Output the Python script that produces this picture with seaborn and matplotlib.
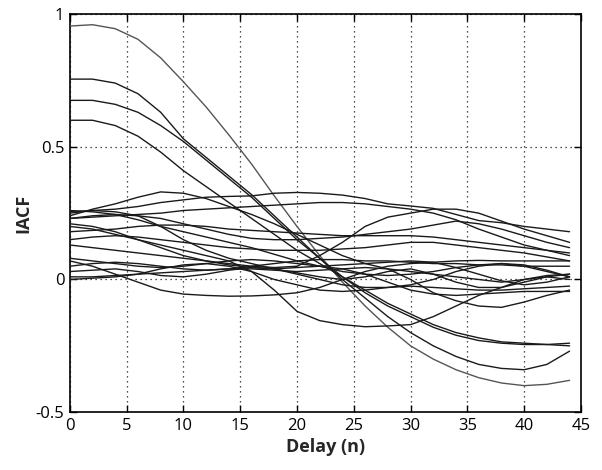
import numpy as np
import pandas as pd
import matplotlib
matplotlib.use("Agg")
import matplotlib.pyplot as plt
import seaborn as sns

# Delay values at which the curves were read (every 2 samples)
delays = list(range(0, 45, 2))

# IACF curves
s_a = [0.955, 0.96, 0.945, 0.905, 0.835, 0.745, 0.65, 0.545, 0.435, 0.315, 0.20, 0.09, -0.01, -0.10, -0.18, -0.25, -0.30, -0.34, -0.37, -0.39, -0.40, -0.395, -0.38]
s_b = [0.755, 0.755, 0.74, 0.70, 0.63, 0.53, 0.46, 0.39, 0.32, 0.24, 0.16, 0.08, 0.0, -0.07, -0.14, -0.20, -0.25, -0.29, -0.32, -0.335, -0.34, -0.32, -0.27]
s_c = [0.675, 0.675, 0.66, 0.63, 0.58, 0.52, 0.45, 0.38, 0.31, 0.23, 0.15, 0.08, 0.01, -0.05, -0.10, -0.14, -0.18, -0.21, -0.23, -0.24, -0.245, -0.245, -0.24]
s_d = [0.60, 0.60, 0.58, 0.54, 0.48, 0.41, 0.35, 0.29, 0.23, 0.17, 0.11, 0.06, 0.01, -0.04, -0.09, -0.13, -0.17, -0.20, -0.22, -0.235, -0.24, -0.245, -0.25]
s_e = [0.24, 0.265, 0.285, 0.31, 0.33, 0.325, 0.305, 0.275, 0.245, 0.21, 0.17, 0.13, 0.09, 0.06, 0.04, 0.03, 0.02, 0.01, 0.0, -0.01, 0.0, 0.01, 0.02]
s_f = [0.255, 0.26, 0.265, 0.275, 0.29, 0.30, 0.31, 0.313, 0.315, 0.325, 0.328, 0.325, 0.318, 0.305, 0.285, 0.277, 0.268, 0.245, 0.222, 0.214, 0.20, 0.19, 0.18]
s_g = [0.25, 0.26, 0.255, 0.24, 0.20, 0.15, 0.11, 0.08, 0.06, 0.04, 0.02, 0.0, -0.02, -0.03, -0.03, -0.02, 0.0, 0.03, 0.05, 0.06, 0.05, 0.03, 0.01]
s_h = [0.20, 0.19, 0.17, 0.15, 0.13, 0.11, 0.09, 0.07, 0.03, -0.04, -0.12, -0.155, -0.17, -0.178, -0.175, -0.17, -0.14, -0.10, -0.06, -0.03, 0.0, 0.015, 0.02]
s_i = [0.07, 0.05, 0.02, -0.01, -0.04, -0.055, -0.06, -0.063, -0.062, -0.058, -0.05, -0.03, 0.0, 0.03, 0.05, 0.06, 0.065, 0.07, 0.072, 0.07, 0.07, 0.07, 0.07]
s_j = [0.13, 0.12, 0.11, 0.10, 0.09, 0.08, 0.07, 0.06, 0.05, 0.045, 0.05, 0.09, 0.14, 0.20, 0.235, 0.25, 0.265, 0.265, 0.25, 0.22, 0.19, 0.165, 0.14]
s_k = [0.23, 0.235, 0.24, 0.245, 0.25, 0.26, 0.265, 0.27, 0.275, 0.28, 0.285, 0.29, 0.29, 0.285, 0.275, 0.265, 0.25, 0.225, 0.19, 0.16, 0.13, 0.11, 0.09]
s_l = [0.18, 0.185, 0.19, 0.20, 0.205, 0.205, 0.20, 0.19, 0.185, 0.18, 0.175, 0.17, 0.165, 0.165, 0.165, 0.165, 0.16, 0.15, 0.14, 0.13, 0.12, 0.11, 0.10]
s_m = [0.15, 0.16, 0.165, 0.16, 0.15, 0.14, 0.13, 0.12, 0.115, 0.11, 0.11, 0.11, 0.115, 0.12, 0.13, 0.14, 0.14, 0.13, 0.12, 0.11, 0.10, 0.085, 0.07]
s_n = [0.05, 0.06, 0.065, 0.06, 0.05, 0.04, 0.035, 0.04, 0.05, 0.06, 0.07, 0.075, 0.075, 0.07, 0.07, 0.065, 0.06, 0.06, 0.055, 0.055, 0.05, 0.05, 0.05]
s_o = [0.03, 0.035, 0.04, 0.03, 0.015, 0.01, 0.02, 0.035, 0.045, 0.04, 0.025, 0.01, 0.0, 0.01, 0.03, 0.04, 0.02, -0.01, -0.03, -0.03, -0.01, 0.01, 0.0]
s_p = [0.01, 0.01, 0.015, 0.02, 0.025, 0.03, 0.035, 0.04, 0.04, 0.035, 0.03, 0.035, 0.04, 0.045, 0.04, 0.0, -0.05, -0.08, -0.10, -0.105, -0.085, -0.06, -0.04]
s_q = [0.0, 0.005, 0.01, 0.02, 0.04, 0.055, 0.06, 0.05, 0.03, 0.0, -0.02, -0.04, -0.045, -0.04, -0.03, -0.025, -0.03, -0.035, -0.04, -0.04, -0.035, -0.03, -0.025]
s_r = [0.08, 0.07, 0.06, 0.05, 0.045, 0.05, 0.06, 0.07, 0.075, 0.07, 0.06, 0.05, 0.04, 0.02, -0.01, -0.04, -0.055, -0.06, -0.055, -0.05, -0.045, -0.045, -0.045]
s_s = [0.21, 0.20, 0.18, 0.15, 0.12, 0.09, 0.07, 0.055, 0.045, 0.04, 0.045, 0.05, 0.055, 0.06, 0.065, 0.07, 0.065, 0.045, 0.02, -0.005, -0.02, -0.01, 0.01]
s_t = [0.26, 0.255, 0.245, 0.225, 0.20, 0.18, 0.16, 0.14, 0.12, 0.095, 0.07, 0.05, 0.03, 0.02, 0.015, 0.02, 0.03, 0.045, 0.055, 0.06, 0.055, 0.035, 0.01]
s_u = [0.23, 0.24, 0.245, 0.24, 0.23, 0.21, 0.19, 0.17, 0.155, 0.15, 0.15, 0.155, 0.16, 0.17, 0.18, 0.19, 0.205, 0.22, 0.21, 0.19, 0.165, 0.14, 0.12]

series = [s_a, s_b, s_c, s_d, s_e, s_f, s_g, s_h, s_i, s_j, s_k,
          s_l, s_m, s_n, s_o, s_p, s_q, s_r, s_s, s_t, s_u]

x_ticks = [0, 5, 10, 15, 20, 25, 30, 35, 40, 45]
y_ticks = [-0.5, 0, 0.5, 1]
y_tick_labels = ["-0.5", "0", "0.5", "1"]

sns.set_theme(style="white")
plt.rcParams["font.family"] = ["Open Sans", "DejaVu Sans"]

fig = plt.figure(figsize=(6.02, 4.70), dpi=100)
ax = fig.add_axes([0.116, 0.123, 0.849, 0.847])

for i, vals in enumerate(series):
    df = pd.DataFrame({"delay": delays, "iacf": vals})
    if i == 0:
        sns.lineplot(data=df, x="delay", y="iacf", ax=ax, color="#555555",
                     linewidth=1.0, zorder=3)
    else:
        sns.lineplot(data=df, x="delay", y="iacf", ax=ax, color="#1a1a1a",
                     linewidth=1.0, zorder=3)

ax.set_xlim(0, 45)
ax.set_ylim(-0.5, 1)
ax.set_xticks(x_ticks)
ax.set_yticks(y_ticks)
ax.set_yticklabels(y_tick_labels)
ax.grid(True, linestyle=(0, (1, 3)), color="black", linewidth=0.9, alpha=0.9)
ax.set_axisbelow(True)
ax.tick_params(direction="in", length=5, width=1, colors="black",
               top=True, right=True, bottom=True, left=True, labelsize=12,
               pad=4)
for sp in ax.spines.values():
    sp.set_visible(True)
    sp.set_color("black")
    sp.set_linewidth(1.2)

ax.set_xlabel("Delay (n)", fontsize=13, fontweight="bold", labelpad=3)
ax.set_ylabel("IACF", fontsize=13, fontweight="bold", labelpad=2)

fig.savefig("out.png", dpi=100)
